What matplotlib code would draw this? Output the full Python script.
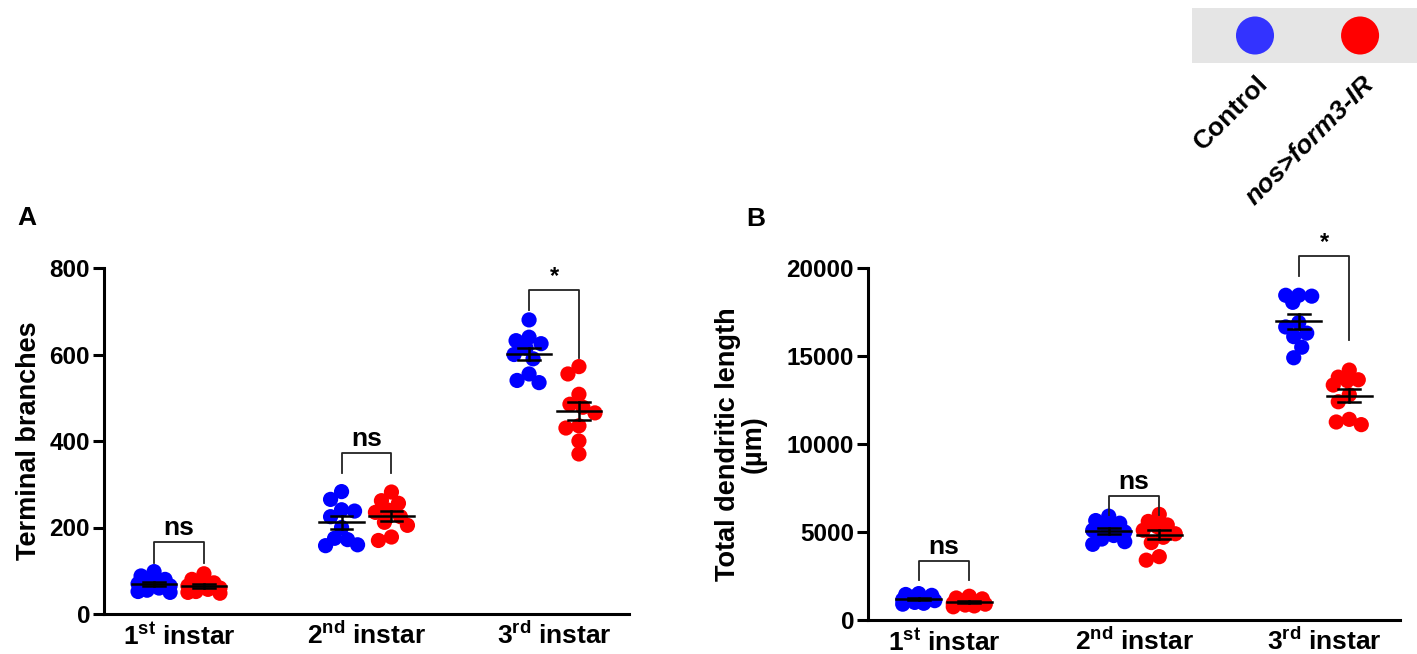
import numpy as np
import matplotlib
matplotlib.use("Agg")
import matplotlib.pyplot as plt

plt.rcParams["font.family"] = ["Liberation Sans", "DejaVu Sans"]
plt.rcParams["font.weight"] = "bold"
plt.rcParams["mathtext.fontset"] = "custom"
plt.rcParams["mathtext.rm"] = "Liberation Sans:bold"
plt.rcParams["mathtext.bf"] = "Liberation Sans:bold"
plt.rcParams["mathtext.default"] = "rm"

# --- data ---
stages = ["1$^{st}$ instar", "2$^{nd}$ instar", "3$^{rd}$ instar"]
groups = ["Control", "nos>form3-IR"]
colors = ["#0000ff", "#ff0000"]
legend_colors = ["#3333ff", "#ff0000"]

branches_ctrl = [
    [98, 88, 80, 75, 70, 65, 60, 55, 52, 50],
    [283, 265, 241, 238, 225, 200, 175, 172, 160, 158],
    [680, 640, 632, 625, 615, 600, 590, 555, 540, 535],
]
branches_rnai = [
    [93, 80, 72, 68, 65, 60, 57, 52, 50, 48],
    [282, 262, 256, 240, 235, 225, 212, 205, 178, 170],
    [572, 555, 508, 485, 478, 465, 435, 430, 400, 370],
]
length_ctrl = [
    [1500, 1450, 1400, 1300, 1200, 1150, 1100, 1000, 950, 900],
    [5900, 5650, 5500, 5300, 5100, 5000, 4800, 4600, 4450, 4300],
    [18400, 18450, 18450, 18050, 16900, 16650, 16300, 16100, 15500, 14900],
]
length_rnai = [
    [1350, 1250, 1200, 1100, 1000, 950, 900, 850, 800, 750],
    [6000, 5600, 5400, 5300, 5100, 4900, 4700, 4400, 3600, 3400],
    [14200, 13800, 13650, 13600, 13350, 12800, 12400, 11400, 11250, 11100],
]
sig_labels = ["ns", "ns", "*"]

# significance brackets: top, left leg end, right leg end
brackets_a = [(166, 118, 118), (372, 326, 326), (749, 703, 592)]
brackets_b = [(3350, 2270, 2270), (7050, 5970, 5970), (20680, 19550, 15900)]

W, H = 1417, 654
fig = plt.figure(figsize=(W / 100, H / 100), dpi=100)

OFF = 0.133


def swarm_x(ax, xc, ys, sep=13.0, half=16):
    # compact swarm: points may overlap, spread kept within +-half px
    disp = ax.transData.transform(np.column_stack([np.full(len(ys), xc), ys]))
    x0 = disp[0, 0]
    py = disp[:, 1]
    cands = np.arange(-half, half + 0.5, 1.0)
    placed = []
    xs = np.zeros(len(ys))
    for i in np.argsort(-py):
        best, best_pen = 0.0, None
        for c in sorted(cands, key=abs):
            pen = 0.0
            for px, qy in placed:
                d = np.hypot(c - px, py[i] - qy)
                if d < sep:
                    pen += (sep - d) ** 2
            pen += 0.02 * abs(c)
            if best_pen is None or pen < best_pen - 1e-9:
                best, best_pen = c, pen
        placed.append((best, py[i]))
        xs[i] = best
    return ax.transData.inverted().transform(np.column_stack([x0 + xs, py]))[:, 0]


def panel(rect, ctrl, rnai, ymax, yticks, brackets, ylabel, ylabel_x):
    ax = fig.add_axes(rect)
    ax.set_xlim(0.6, 3.4)
    ax.set_ylim(0, ymax)
    for s in ("top", "right"):
        ax.spines[s].set_visible(False)
    for s in ("left", "bottom"):
        ax.spines[s].set_linewidth(2.2)
    ax.set_yticks(yticks)
    ax.tick_params(axis="y", length=8, width=2.2, labelsize=17.5, pad=2)
    ax.set_xticks([1, 2, 3])
    ax.set_xticklabels(stages)
    ax.tick_params(axis="x", length=0, labelsize=19, pad=6)
    ax.set_ylabel(ylabel, fontsize=19.5, fontweight="bold", linespacing=1.0)
    ax.yaxis.set_label_coords(ylabel_x, 0.5)

    for k in range(3):
        for g, vals in enumerate((ctrl[k], rnai[k])):
            xc = k + 1 + (-OFF if g == 0 else OFF)
            v = np.array(vals, dtype=float)
            xs = swarm_x(ax, xc, v)
            ax.scatter(xs, v, s=120, color=colors[g], edgecolors="none", zorder=2)
            m = v.mean()
            sem = v.std(ddof=1) / np.sqrt(len(v))
            ax.plot([xc - 0.118, xc + 0.118], [m, m], color="black", lw=1.8, zorder=3)
            ax.plot([xc, xc], [m - sem, m + sem], color="black", lw=1.8, zorder=3)
            for yy in (m - sem, m + sem):
                ax.plot([xc - 0.058, xc + 0.058], [yy, yy], color="black", lw=1.8, zorder=3)
        top, l_end, r_end = brackets[k]
        xl, xr = k + 1 - OFF, k + 1 + OFF
        ax.plot([xl, xl, xr, xr], [l_end, top, top, r_end], color="#222222",
                lw=1.3, clip_on=False, zorder=3)
        ax.text(k + 1, top + ymax * 0.006, sig_labels[k], ha="center", va="bottom",
                fontsize=19 if sig_labels[k] == "ns" else 17, fontweight="bold")
    return ax


ax_a = panel([104 / W, 1 - 614 / H, 525 / W, 346 / H], branches_ctrl, branches_rnai,
             800, [0, 200, 400, 600, 800], brackets_a, "Terminal branches", -0.118)
ax_b = panel([868 / W, 1 - 620 / H, 532 / W, 352 / H], length_ctrl, length_rnai,
             20000, [0, 5000, 10000, 15000, 20000], brackets_b,
             "Total dendritic length\n(µm)", -0.19)

fig.text(27 / W, 1 - 218 / H, "A", ha="center", va="center", fontsize=19, fontweight="bold")
fig.text(756 / W, 1 - 219 / H, "B", ha="center", va="center", fontsize=19, fontweight="bold")

# legend strip
lax = fig.add_axes([1192 / W, 1 - 63 / H, 225 / W, 55 / H])
lax.set_facecolor("#e5e5e5")
lax.set_xlim(0, 1)
lax.set_ylim(0, 1)
for s in lax.spines.values():
    s.set_visible(False)
lax.set_xticks([])
lax.set_yticks([])
lax.scatter([0.28, 0.747], [0.5, 0.5], s=750, color=legend_colors, edgecolors="none")
fig.text(1264 / W, 1 - 80 / H, groups[0], rotation=45, rotation_mode="anchor",
         ha="right", va="center", fontsize=19, fontweight="bold")
fig.text(1370 / W, 1 - 80 / H, groups[1], rotation=45, rotation_mode="anchor",
         ha="right", va="center", fontsize=19, fontweight="bold", style="italic")

fig.savefig("out.png", dpi=100)
